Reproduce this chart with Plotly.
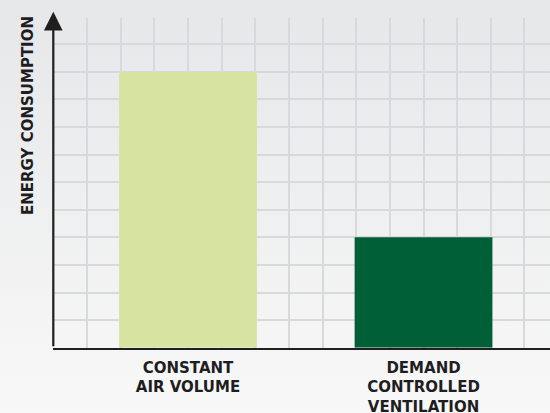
import plotly.graph_objects as go

categories = ["CONSTANT<br>AIR VOLUME", "DEMAND<br>CONTROLLED<br>VENTILATION"]
values = [10, 4]
bar_colors = ["#d7e3a0", "#005f37"]
y_title = "ENERGY CONSUMPTION"

W, H = 550, 413
FONT = "DejaVu Sans"
TXT = "#1e1e22"

fig = go.Figure()

# background gradient (decoration only)
fig.add_trace(go.Scatter(
    x=[0, 1, 1, 0, 0], y=[0, 0, 1, 1, 0], xaxis="x", yaxis="y",
    mode="lines", fill="toself", line=dict(width=0),
    fillgradient=dict(type="vertical",
                      colorscale=[[0, "#f8f8f8"], [1, "#e6e7e9"]]),
    hoverinfo="skip", showlegend=False,
))

xs = list(range(len(categories)))
fig.add_trace(go.Bar(
    x=xs, y=values, width=0.585, marker=dict(color=bar_colors, line=dict(width=0)),
    xaxis="x2", yaxis="y2", showlegend=False, hoverinfo="skip",
))

grid_c = "#d8d9dc"
fig.update_layout(
    width=W, height=H,
    margin=dict(l=0, r=0, t=0, b=0, autoexpand=False),
    paper_bgcolor="#eeeff0",
    plot_bgcolor="rgba(0,0,0,0)",
    xaxis=dict(domain=[0, 1], range=[0, 1], visible=False, fixedrange=True,
               automargin=False),
    yaxis=dict(domain=[0, 1], range=[0, 1], visible=False, fixedrange=True,
               automargin=False),
    xaxis2=dict(
        domain=[53.3 / W, 1], anchor="y2", automargin=False,
        range=[-0.572, 1.537],
        tickmode="array", tickvals=xs,
        ticktext=["<b>%s</b>" % c.replace("<br>", "</b><br><b>") for c in categories],
        tickfont=dict(family=FONT, size=15, color=TXT),
        ticklabelstandoff=5,
        ticks="", showgrid=True, gridcolor=grid_c, gridwidth=1.5,
        minor=dict(tickmode="linear", tick0=0, dtick=1 / 7, showgrid=True,
                   gridcolor=grid_c, gridwidth=1.5, ticks=""),
        showline=True, linecolor="#1f1f1f", linewidth=2.2,
        zeroline=False,
    ),
    yaxis2=dict(
        domain=[(H - 347.7) / H, (H - 18.1) / H], anchor="x2", automargin=False,
        range=[0, 11.95], dtick=1, tick0=0,
        showgrid=True, gridcolor=grid_c, gridwidth=1.5,
        showticklabels=False, ticks="", zeroline=False, showline=False,
    ),
    annotations=[
        dict(xref="x2 domain", yref="y2 domain", x=0, y=1.0194,
             axref="x2 domain", ayref="y2 domain", ax=0, ay=0,
             showarrow=True, arrowhead=2, arrowsize=1.7, arrowwidth=2.2,
             arrowcolor="#1f1f1f", text=""),
        dict(xref="paper", yref="paper", x=28 / W, y=1 - 116 / H,
             xanchor="center", yanchor="middle", textangle=-90,
             text="<b>%s</b>" % y_title, showarrow=False,
             font=dict(family=FONT, size=15, color=TXT)),
    ],
)

fig.write_html(
    "out.html",
    config={"displayModeBar": False},
    post_script="document.body.style.margin='0';document.body.style.overflow='hidden';",
)
